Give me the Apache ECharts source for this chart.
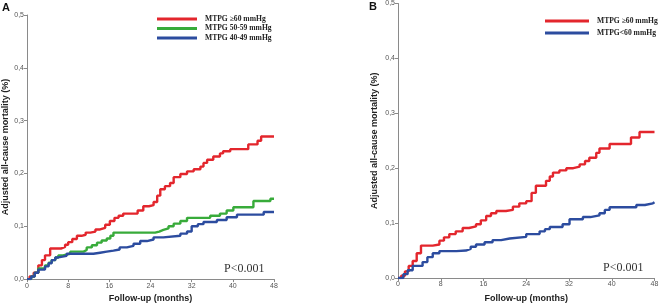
<!DOCTYPE html>
<html>
<head>
<meta charset="utf-8">
<script src="https://cdn.jsdelivr.net/npm/echarts@6/dist/echarts.min.js"></script>
<style>
	html, body { margin: 0; padding: 0; background: #fff; }
	#chart { width: 666px; height: 308px; }
</style>
</head>
<body>
<div id="chart"></div>
<script>
//x轴刻度 (月)
var monthTicks = [0, 8, 16, 24, 32, 40, 48];
//y轴刻度
var rateTicks = [0, 0.1, 0.2, 0.3, 0.4, 0.5];

//图A 三组 [月, 死亡率]
var redA = [[0,0],[0.5,0.005],[1.3,0.012],[2.2,0.026],[2.9,0.036],[3.5,0.045],[4.5,0.058],[6.7,0.061],[7.4,0.065],[8,0.07],[8.8,0.076],[9.7,0.082],[10.6,0.084],[11.4,0.088],[12.3,0.09],[13.3,0.094],[14.2,0.097],[15.2,0.103],[16.1,0.11],[17,0.116],[17.8,0.12],[18.7,0.124],[21.5,0.13],[22.6,0.138],[23.7,0.14],[24.6,0.146],[25.3,0.158],[25.9,0.17],[26.8,0.176],[27.8,0.182],[28.5,0.193],[29.8,0.199],[31.1,0.204],[32.4,0.208],[33.7,0.213],[34.3,0.22],[35,0.226],[36.2,0.232],[37.5,0.238],[38.1,0.242],[39.5,0.246],[43,0.255],[44.8,0.262],[45.5,0.27],[48,0.27]];
var greenA = [[0,0],[0.8,0.005],[1.5,0.012],[2.2,0.02],[3.5,0.026],[4.2,0.031],[4.8,0.036],[5.5,0.041],[6.1,0.045],[7,0.048],[8.4,0.052],[11,0.055],[11.6,0.06],[12.6,0.064],[13.6,0.069],[14.5,0.073],[15.5,0.077],[16.2,0.082],[16.8,0.088],[24.9,0.09],[25.7,0.093],[26.5,0.096],[27.5,0.1],[28.5,0.105],[29.8,0.11],[31.1,0.116],[35.6,0.12],[37.5,0.124],[38.8,0.13],[40.1,0.136],[44,0.148],[47.3,0.152],[48,0.152]];
var blueA = [[0,0],[0.8,0.005],[1.5,0.012],[2.2,0.018],[3.5,0.024],[4.2,0.03],[4.8,0.036],[5.5,0.041],[6.1,0.044],[7.7,0.048],[12.9,0.05],[14.2,0.052],[15.5,0.054],[16.8,0.056],[18,0.06],[19.4,0.063],[20.7,0.067],[22,0.072],[23.3,0.075],[24.6,0.079],[26.5,0.082],[29.8,0.086],[31.1,0.09],[32,0.1],[33.2,0.104],[34.3,0.108],[36.9,0.112],[38.8,0.117],[40.8,0.122],[46,0.127],[48,0.127]];

//图B 两组
var redB = [[0,0],[0.6,0.004],[1.3,0.012],[2,0.022],[2.75,0.031],[3.5,0.045],[4.3,0.059],[6.5,0.061],[7.75,0.068],[8.6,0.074],[9.6,0.08],[10.8,0.085],[12.1,0.091],[13.3,0.094],[14.6,0.098],[15.5,0.105],[16.5,0.113],[17.4,0.118],[18.4,0.122],[20.2,0.124],[21.5,0.13],[22.7,0.136],[24,0.14],[25,0.155],[25.8,0.168],[27.7,0.177],[28.4,0.185],[29,0.192],[30.2,0.196],[31.5,0.2],[32.8,0.203],[34,0.207],[35,0.213],[35.8,0.219],[37.1,0.228],[37.7,0.236],[39.6,0.244],[43.6,0.256],[45.2,0.266],[48,0.266]];
var blueB = [[0,0],[1,0.007],[1.8,0.014],[2.75,0.022],[4.6,0.029],[5.5,0.038],[6.5,0.045],[7.75,0.049],[10.9,0.05],[12.7,0.053],[13.6,0.057],[14.6,0.061],[16.2,0.065],[17.7,0.069],[19.3,0.072],[20.9,0.075],[24,0.08],[26.5,0.085],[27.5,0.089],[28.4,0.093],[30.8,0.098],[32.1,0.107],[34.6,0.111],[36,0.114],[37.7,0.118],[38.7,0.124],[39.6,0.129],[44.6,0.133],[46.2,0.136],[47.7,0.138],[48,0.138]];

var namesA = ['MTPG \u226560 mmHg', 'MTPG 50-59 mmHg', 'MTPG 40-49 mmHg'];
var namesB = ['MTPG \u226560 mmHg', 'MTPG<60 mmHg'];

var RED = '#e3262d', GREEN = '#38ab3a', BLUE = '#2c4c9f';
var sans = 'Liberation Sans, Arial, sans-serif';
var serif = 'Liberation Serif, Times New Roman, serif';

function xAx(idx, gap) {
	return {
		gridIndex: idx, type: 'value', min: monthTicks[0], max: monthTicks[monthTicks.length - 1], interval: 8,
		name: 'Follow-up (months)', nameLocation: 'middle', nameGap: gap,
		nameTextStyle: { fontFamily: sans, fontWeight: 'bold', fontSize: 9, color: '#222' },
		axisLine: { lineStyle: { color: '#8a8a8a', width: 1 } },
		axisTick: { show: true, length: 3, lineStyle: { color: '#8a8a8a' } },
		axisLabel: { fontFamily: sans, fontSize: 7, color: '#555', margin: 3 },
		splitLine: { show: false }
	}
}
function yAx(idx, gap) {
	return {
		gridIndex: idx, type: 'value', min: rateTicks[0], max: rateTicks[rateTicks.length - 1], interval: 0.1,
		name: 'Adjusted all-cause mortality (%)', nameLocation: 'middle', nameGap: gap,
		nameTextStyle: { fontFamily: sans, fontWeight: 'bold', fontSize: 9, color: '#222' },
		axisLine: { show: true, lineStyle: { color: '#8a8a8a', width: 1 } },
		axisTick: { show: true, length: 3, lineStyle: { color: '#8a8a8a' } },
		axisLabel: {
			fontFamily: sans, fontSize: 7, color: '#555', margin: 3,
			formatter: function(v) { return v.toFixed(1).replace('.', ',') }
		},
		splitLine: { show: false }
	}
}
function km(name, data, color, idx) {
	return {
		name: name, type: 'line', step: 'end', data: data,
		xAxisIndex: idx, yAxisIndex: idx,
		showSymbol: false, silent: true,
		lineStyle: { color: color, width: 2.4 }, itemStyle: { color: color }
	}
}
function legendOf(names, left, top, w, gap) {
	return {
		data: names, orient: 'vertical', left: left, top: top,
		icon: 'rect', itemWidth: w, itemHeight: 3, itemGap: gap,
		selectedMode: false,
		textStyle: { fontFamily: serif, fontWeight: 'bold', fontSize: 7.6, color: '#222', padding: [0, 0, 0, 3] }
	}
}

var option = {
	animation: false,
	grid: [
		{ left: 27, top: 15, width: 247, height: 265.7 },
		{ left: 398, top: 3, width: 256.5, height: 275 }
	],
	xAxis: [xAx(0, 14), xAx(1, 16)],
	yAxis: [yAx(0, 15), yAx(1, 19)],
	legend: [legendOf(namesA, 152, 10, 40, 1.5), legendOf(namesB, 540, 12, 44, 4)],
	series: [
		km(namesA[0], redA, RED, 0),
		km(namesA[1], greenA, GREEN, 0),
		km(namesA[2], blueA, BLUE, 0),
		km(namesB[0], redB, RED, 1),
		km(namesB[1], blueB, BLUE, 1)
	],
	graphic: [
		{ type: 'text', left: 2, top: 2, style: { text: 'A', font: 'bold 11px ' + sans, fill: '#111' } },
		{ type: 'text', left: 369, top: 1, style: { text: 'B', font: 'bold 11px ' + sans, fill: '#111' } },
		{ type: 'text', left: 224, top: 263, style: { text: 'P<0.001', font: '12px ' + serif, fill: '#333' } },
		{ type: 'text', left: 603, top: 262, style: { text: 'P<0.001', font: '12px ' + serif, fill: '#333' } }
	]
};

var myChart = echarts.init(document.getElementById('chart'), null, { renderer: 'canvas' });
myChart.setOption(option);
</script>
</body>
</html>
